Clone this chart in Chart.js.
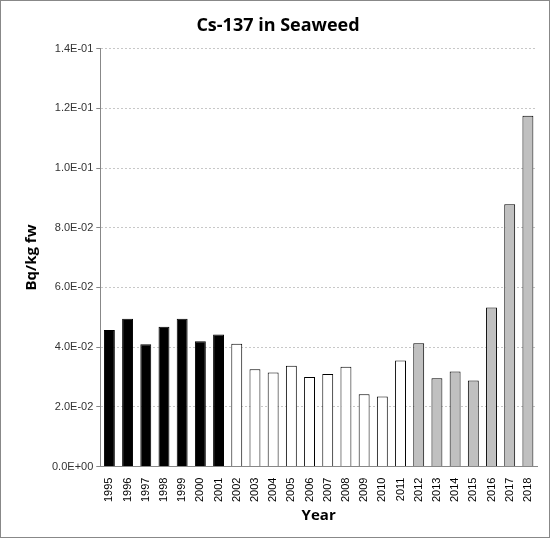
<!DOCTYPE html>
<html><head><meta charset="utf-8">
<script src="https://cdn.jsdelivr.net/npm/chart.js@4"></script>
<style>
html,body{margin:0;padding:0;background:#fff;}
#wrap{position:absolute;left:0;top:0;width:548px;height:536px;border:1px solid #888;}
</style></head>
<body><div id="wrap"><canvas id="c" width="548" height="536"></canvas></div>
<script>
const years = ["1995","1996","1997","1998","1999","2000","2001","2002","2003","2004","2005","2006","2007","2008","2009","2010","2011","2012","2013","2014","2015","2016","2017","2018"];
const values = [0.0457,0.0495,0.0410,0.0468,0.0495,0.0420,0.0442,0.0411,0.0326,0.0315,0.0338,0.0300,0.0310,0.0334,0.0242,0.0235,0.0355,0.0413,0.0296,0.0318,0.0288,0.0533,0.0879,0.1175];
const groups = ["black","black","black","black","black","black","black","white","white","white","white","white","white","white","white","white","white","gray","gray","gray","gray","gray","gray","gray"];
const groupColors = {black:"#000000", white:"#ffffff", gray:"#c0c0c0"};
new Chart(document.getElementById('c'), {
  type:'bar',
  data:{labels:years, datasets:[{data:values, backgroundColor:groups.map(g=>groupColors[g]), borderColor:'#000', borderWidth:1, barPercentage:0.6, categoryPercentage:1}]},
  options:{
    responsive:false, animation:false,
    layout:{padding:{left:18,right:12,top:8,bottom:8}},
    plugins:{legend:{display:false}, tooltip:{enabled:false},
      title:{display:true,text:'Cs-137 in Seaweed',color:'#000',font:{family:'Open Sans',size:18,weight:'bold'},padding:{top:6,bottom:12}}},
    scales:{
      x:{grid:{display:false},border:{color:'#888'},
         ticks:{color:'#000',font:{family:'Liberation Sans',size:11},maxRotation:90,minRotation:90},
         title:{display:true,text:'Year',color:'#000',font:{family:'Open Sans',size:15,weight:'bold'},padding:{top:2}}},
      y:{min:0,max:0.14,border:{color:'#888',dash:[2,2]},
         grid:{color:'#c8c8c8',drawTicks:true,tickLength:4,tickColor:'#888'},
         ticks:{stepSize:0.02,color:'#333',font:{family:'Liberation Sans',size:11},
           callback:v=>{let s=Number(v).toExponential(1).toUpperCase();return s.replace(/E([+-])(\d)$/,'E$10$2');}},
         title:{display:true,text:'Bq/kg fw',color:'#000',font:{family:'Open Sans',size:15,weight:'bold'},padding:{bottom:8}}}
    }
  }
});
</script></body></html>
